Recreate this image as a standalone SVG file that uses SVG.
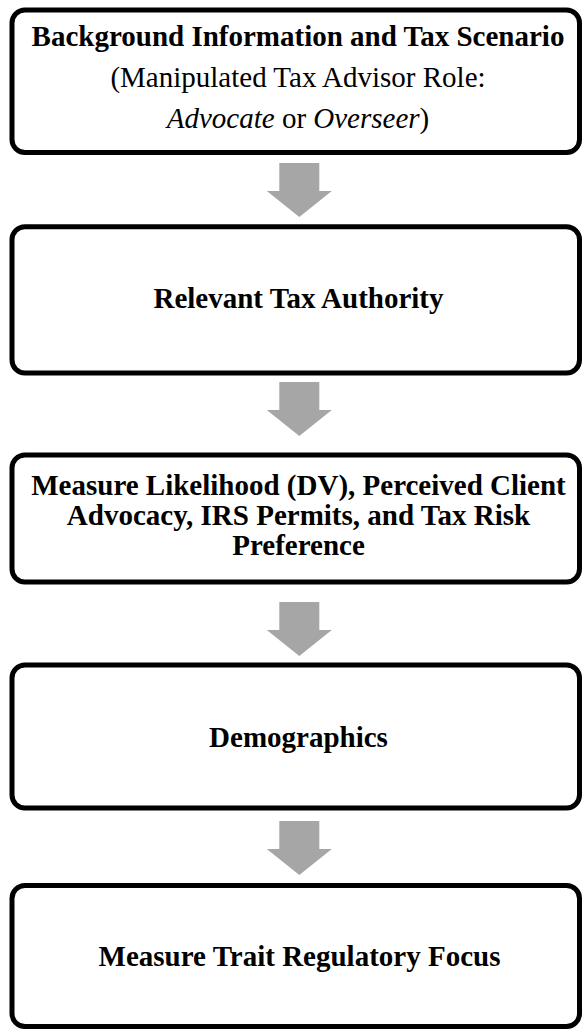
<svg xmlns="http://www.w3.org/2000/svg" width="582" height="1029" viewBox="0 0 582 1029">
  <style>
    .box { fill: #ffffff; stroke: #000000; stroke-width: 5; }
    .t { font-family: "Liberation Serif", "Times New Roman", serif; font-size: 29px; fill: #000000; text-anchor: middle; }
    .b { font-weight: bold; }
    .i { font-style: italic; }
    .arrow { fill: #a6a6a6; stroke: none; }
  </style>
  <defs>
    <path id="downArrow" d="M -20 0 H 20 V 28 H 32.5 L 0 54 L -32.5 28 H -20 Z"/>
  </defs>
  <rect width="582" height="1029" fill="#ffffff"/>

  <g id="connectors">
    <use href="#downArrow" class="arrow" x="299.3" y="163"/>
    <use href="#downArrow" class="arrow" x="299.3" y="382"/>
    <use href="#downArrow" class="arrow" x="299.3" y="602"/>
    <use href="#downArrow" class="arrow" x="299.3" y="821"/>
  </g>

  <g id="node-background">
    <rect class="box" x="12" y="10" width="567.5" height="142.5" rx="13" ry="13"/>
    <text class="t b" x="298" y="46">Background Information and Tax Scenario</text>
    <text class="t" x="298" y="87.3">(Manipulated Tax Advisor Role:</text>
    <text class="t" x="298" y="128.3"><tspan class="i">Advocate</tspan> or <tspan class="i">Overseer</tspan>)</text>
  </g>

  <g id="node-authority">
    <rect class="box" x="12" y="226.7" width="567.5" height="146.3" rx="13" ry="13"/>
    <text class="t b" x="298.5" y="308">Relevant Tax Authority</text>
  </g>

  <g id="node-measure">
    <rect class="box" x="12" y="455" width="567.5" height="127" rx="13" ry="13"/>
    <text class="t b" x="298.5" y="495">Measure Likelihood (DV), Perceived Client</text>
    <text class="t b" x="298.5" y="525">Advocacy, IRS Permits, and Tax Risk</text>
    <text class="t b" x="298.5" y="555">Preference</text>
  </g>

  <g id="node-demographics">
    <rect class="box" x="12" y="665" width="567.5" height="143" rx="13" ry="13"/>
    <text class="t b" x="298.5" y="746.5">Demographics</text>
  </g>

  <g id="node-regulatory">
    <rect class="box" x="12" y="885.5" width="567.5" height="141" rx="13" ry="13"/>
    <text class="t b" x="299.5" y="966">Measure Trait Regulatory Focus</text>
  </g>
</svg>
